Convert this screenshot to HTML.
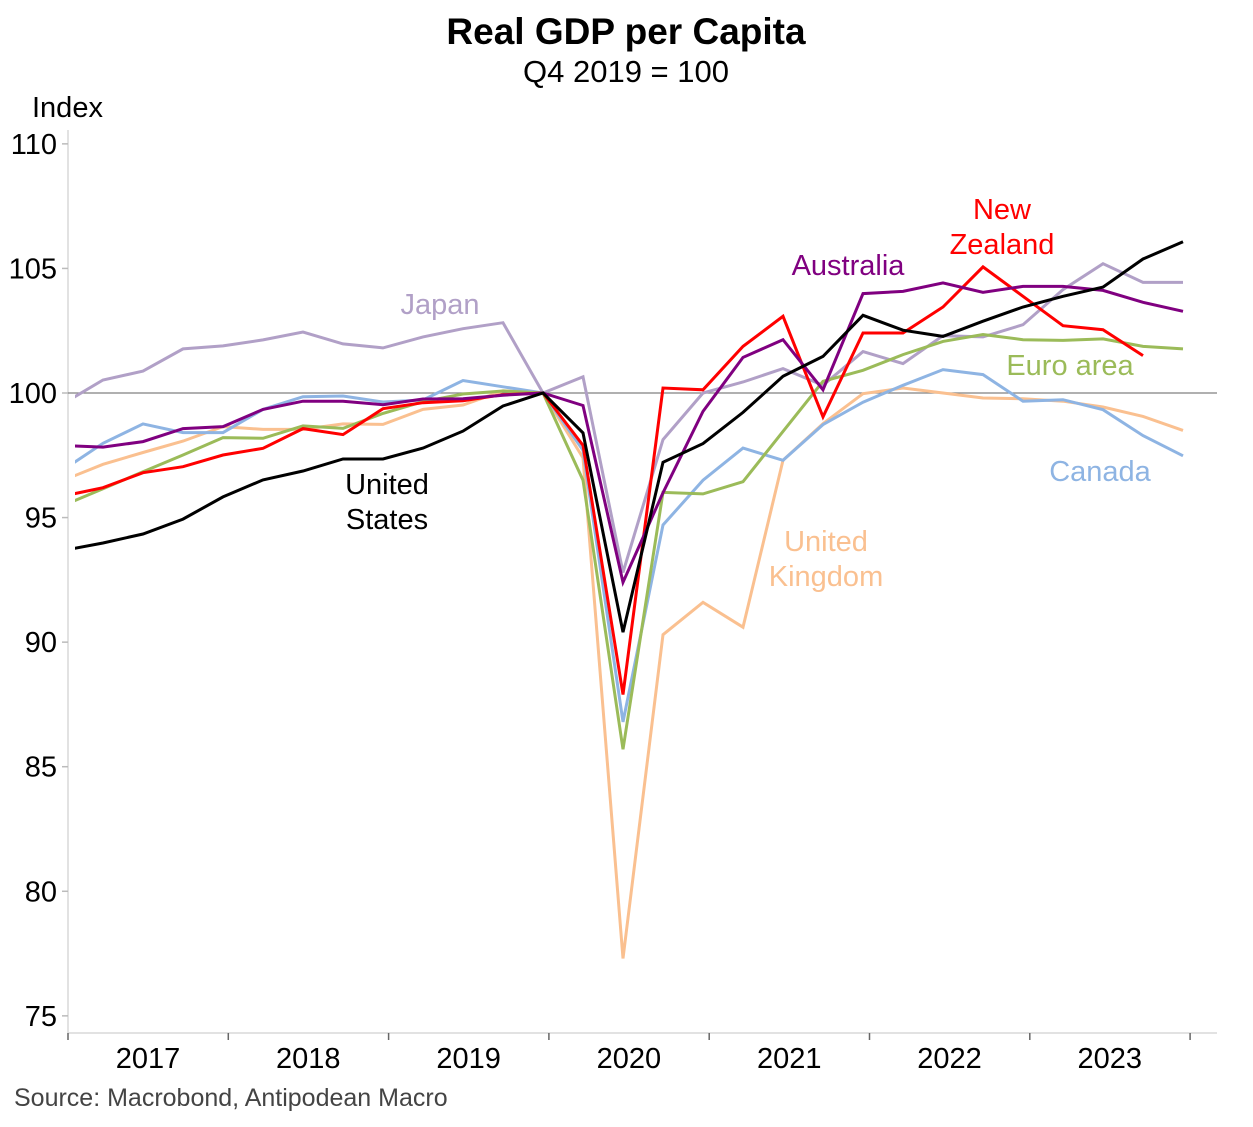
<!DOCTYPE html>
<html><head><meta charset="utf-8"><style>
body{margin:0;background:#fff;}
svg text{font-family:"Liberation Sans",Arial,sans-serif;}
</style></head><body>
<svg id="chart" width="1253" height="1122" viewBox="0 0 1253 1122" xmlns="http://www.w3.org/2000/svg">
<defs><clipPath id="plotclip"><rect x="75" y="120" width="1142" height="913"/></clipPath></defs>
<text x="626" y="44" font-size="37" font-weight="bold" text-anchor="middle">Real GDP per Capita</text>
<text x="626" y="82" font-size="31" text-anchor="middle">Q4 2019 = 100</text>
<text x="32" y="117" font-size="29">Index</text>
<g id="axes"></g>
<g id="series" clip-path="url(#plotclip)"></g>
<g id="labels" font-size="29" text-anchor="middle">
<text x="440" y="314" fill="#b1a0c7">Japan</text>
<text x="387" y="494" fill="#000">United</text>
<text x="387" y="529" fill="#000">States</text>
<text x="848" y="275" fill="#800080">Australia</text>
<text x="1002" y="219" fill="#ff0000">New</text>
<text x="1002" y="254" fill="#ff0000">Zealand</text>
<text x="1070" y="375" fill="#9bbb59">Euro area</text>
<text x="1100" y="481" fill="#8eb4e3">Canada</text>
<text x="826" y="551" fill="#fac090">United</text>
<text x="826" y="586" fill="#fac090">Kingdom</text>
</g>
<text x="14" y="1106" font-size="25" fill="#444">Source: Macrobond, Antipodean Macro</text>
</svg>
<script>
const years = ["2017","2018","2019","2020","2021","2022","2023"];
const yTicks = [75,80,85,90,95,100,105,110];
// quarterly, Q4 2016 .. Q4 2023
const japan = [99.57,100.52,100.88,101.77,101.89,102.13,102.45,101.97,101.81,102.25,102.58,102.82,100,100.65,92.8,98.13,100,100.44,100.98,100.31,101.66,101.18,102.3,102.25,102.74,104.15,105.19,104.44,104.44];
const unitedKingdom = [96.49,97.14,97.61,98.07,98.65,98.54,98.54,98.76,98.74,99.34,99.52,100.09,100,97.4,77.3,90.3,91.6,90.6,97.3,98.77,99.97,100.2,100.0,99.8,99.77,99.67,99.44,99.06,98.5];
const canada = [96.91,97.98,98.76,98.41,98.41,99.34,99.85,99.88,99.64,99.72,100.5,100.25,100,97.7,86.8,94.7,96.5,97.79,97.3,98.73,99.63,100.31,100.94,100.74,99.67,99.73,99.33,98.29,97.48];
const euroArea = [95.48,96.16,96.84,97.51,98.21,98.18,98.68,98.58,99.18,99.65,99.96,100.08,100,96.5,85.7,96.01,95.95,96.44,98.46,100.47,100.91,101.54,102.07,102.35,102.14,102.11,102.17,101.87,101.77];
const newZealand = [95.86,96.2,96.8,97.04,97.51,97.78,98.57,98.33,99.37,99.61,99.69,99.93,100,97.9,87.9,100.2,100.13,101.87,103.08,99.04,102.41,102.41,103.45,105.06,103.88,102.7,102.54,101.5,null];
const australia = [97.89,97.83,98.05,98.57,98.65,99.34,99.67,99.67,99.53,99.76,99.77,99.91,100,99.5,92.4,96.0,99.26,101.43,102.14,100.13,103.99,104.08,104.42,104.04,104.28,104.28,104.12,103.64,103.28];
const unitedStates = [93.68,93.98,94.34,94.94,95.83,96.51,96.87,97.35,97.35,97.79,98.47,99.48,100,98.4,90.4,97.22,97.97,99.22,100.67,101.47,103.12,102.52,102.27,102.88,103.45,103.88,104.25,105.38,106.07];

const NS="http://www.w3.org/2000/svg";
const yScale = v => 393 - (v-100)*24.914;
const xScale = i => 543 + (i-12)*40;
const yearX = k => 68 + k*160.3;
function mk(tag, attrs, parent){const e=document.createElementNS(NS,tag);for(const k in attrs)e.setAttribute(k,attrs[k]);parent.appendChild(e);return e;}
const axes=document.getElementById('axes');
let yl=mk('line',{x1:68,y1:130,x2:68,y2:1033,stroke:'#d9d9d9','stroke-width':1.5},axes);


let xl=mk('line',{x1:68,y1:1033,x2:1217,y2:1033,stroke:'#d9d9d9','stroke-width':1.5},axes);


yTicks.forEach(t=>{
  const y=yScale(t);
  const tk=mk('line',{x1:62,y1:y,x2:68,y2:y,stroke:'#bbb','stroke-width':1.5},axes);
  
  
  const tx=mk('text',{x:57,y:y+10,'font-size':29,'text-anchor':'end'},axes);
  tx.textContent=t;
  
  
});
const zl=mk('line',{x1:68,y1:yScale(100),x2:1217,y2:yScale(100),stroke:'#808080','stroke-width':1.2},axes);


for(let k=0;k<=years.length;k++){
  const tk=mk('line',{x1:yearX(k),y1:1033,x2:yearX(k),y2:1040,stroke:'#666','stroke-width':1.5},axes);
  
  
}
years.forEach((yr,k)=>{
  const tx=mk('text',{x:yearX(k)+80,y:1068,'font-size':29,'text-anchor':'middle'},axes);
  tx.textContent=yr;
  
  
});
const seriesG=document.getElementById('series');
const seriesList=[["japan",japan,"#b1a0c7"],["united-kingdom",unitedKingdom,"#fac090"],["canada",canada,"#8eb4e3"],["euro-area",euroArea,"#9bbb59"],["new-zealand",newZealand,"#ff0000"],["australia",australia,"#800080"],["united-states",unitedStates,"#000000"]];
seriesList.forEach(([name,vals,col])=>{
  const pts=[];
  vals.forEach((v,i)=>{if(v!==null)pts.push(xScale(i).toFixed(1)+','+yScale(v).toFixed(1));});
  const p=mk('polyline',{points:pts.join(' '),fill:'none',stroke:col,'stroke-width':3,'stroke-linejoin':'miter'},seriesG);
  
  
});
</script>
</body></html>
